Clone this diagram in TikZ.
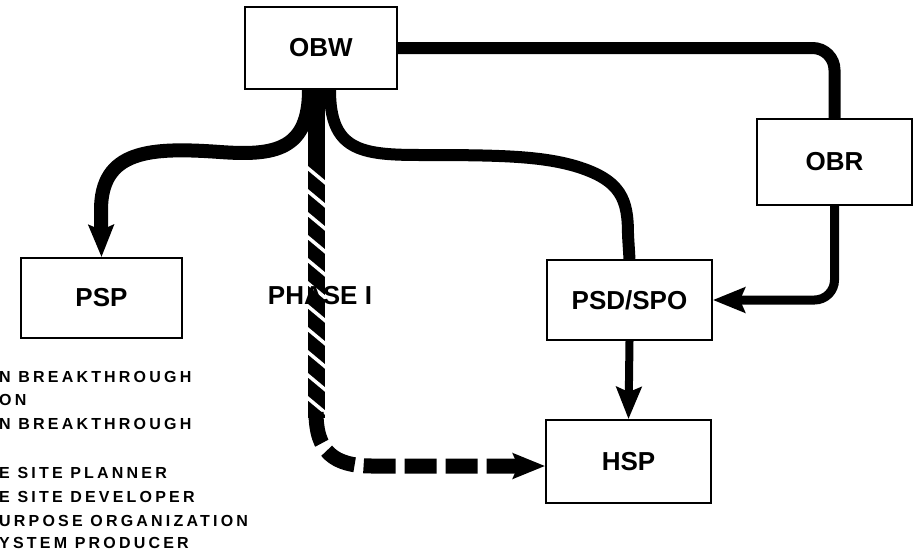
\documentclass[tikz,border=0pt]{standalone}
\usepackage{fontspec}
\setmainfont{Liberation Sans}
\newfontfamily\legende[LetterSpace=20]{Liberation Sans}
\usetikzlibrary{arrows.meta}

\begin{document}
\begin{tikzpicture}[x=1pt,y=-1pt]
\tikzset{boite/.style={draw, line width=1.8pt, inner sep=0pt, font=\bfseries\fontsize{26}{30}\selectfont},
  trait/.style={line width=14pt},
  fleche/.style={-{Stealth[length=32pt,width=25pt,inset=5pt]}},
  legtxt/.style={anchor=west, inner sep=0pt, font=\legende\bfseries\fontsize{16}{19}\selectfont}}
\useasboundingbox (0,0) rectangle (915,552);
\node[boite, minimum width=152pt, minimum height=82pt] (OBW) at (321,48) {OBW};
\node[boite, minimum width=155pt, minimum height=86pt] (OBR) at (834.5,162) {OBR};
\node[boite, minimum width=165pt, minimum height=80pt] (PSD) at (629.5,300) {PSD/SPO};
\node[boite, minimum width=165pt, minimum height=83pt] (HSP) at (628.5,461.5) {HSP};
\node[boite, minimum width=161pt, minimum height=80pt] (PSP) at (101.5,298) {PSP};
\coordinate (bend) at (316,418);
\coordinate (foot) at (372,466);
\draw[trait, line width=12pt, rounded corners=22pt] (OBW.east) -| (OBR.north);
\draw[trait, line width=9pt, fleche, rounded corners=20pt] (OBR.south) |- (PSD.east);
\draw[trait, line width=8pt, fleche] (PSD.south) -- (HSP.north);
\draw[trait, fleche] (OBW.south -| 309,0) .. controls (309,150) and (275,156) .. (220,152)
  .. controls (150,147) and (101,150) .. (101,210) -- (PSP.north);
\draw[trait, line width=12pt] (OBW.south -| 330,0) .. controls (330,150) and (360,155) .. (420,155)
  .. controls (500,155) and (540,156) .. (575,166) .. controls (622,180) and (628,200) .. (628,235) -- (PSD.north);
\draw[line width=17pt] (bend |- OBW.south) -- (bend);
\foreach \y in {165,188,...,395}
  \draw[white, line width=3.5pt] (304,\y) -- (328,\y+20);
\draw[line width=15pt, dash pattern=on 32pt off 9pt, fleche] ([yshift=6pt]bend) .. controls (316,452) and (334,466) .. (foot) -- (foot -| HSP.west);
\node[font=\bfseries\fontsize{26}{30}\selectfont, inner sep=0pt] (phase) at (320,296) {PHASE I};
\node[legtxt] (l1) at (-1,377) {N BREAKTHROUGH};
\node[legtxt] (l2) at (-1,400) {ON};
\node[legtxt] (l3) at (-1,424) {N BREAKTHROUGH};
\node[legtxt] (l4) at (-1,473) {E SITE PLANNER};
\node[legtxt] (l5) at (-1,497) {E SITE DEVELOPER};
\node[legtxt] (l6) at (-1,521) {URPOSE ORGANIZATION};
\node[legtxt] (l7) at (-1,543) {YSTEM PRODUCER};
\end{tikzpicture}
\end{document}
